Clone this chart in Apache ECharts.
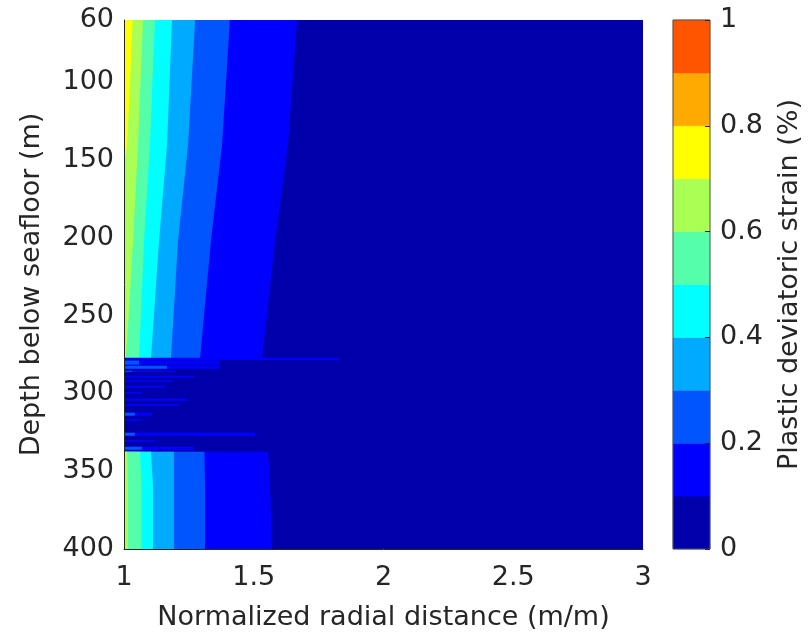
<!DOCTYPE html>
<html>
<head>
<meta charset="utf-8">
<script src="https://cdn.jsdelivr.net/npm/echarts@6/dist/echarts.min.js"></script>
<style>html,body{margin:0;padding:0;background:#fff}#chart{width:810px;height:639px}</style>
</head>
<body>
<div id="chart"></div>
<script>
// ---- data ----
const levelBounds = [0, 0.1, 0.2, 0.3, 0.4, 0.5, 0.6, 0.7, 0.8, 0.9, 1.0];
const levelColors = ['#0000AA','#0000FF','#0055FF','#00AAFF','#00FFFF','#55FFAA','#AAFF55','#FFFF00','#FFAA00','#FF5500'];
const xRange = [1, 3];
const depthRange = [60, 400];
const depthTicks = [60, 100, 150, 200, 250, 300, 350, 400];

// upper layer: x position of contour levels 0.1..0.6 at these depths
const upperDepth = [60, 140, 202, 277.5];
const upperContour01 = [1.667, 1.632, 1.582, 1.532];
const upperContour02 = [1.408, 1.378, 1.335, 1.293];
const upperContour03 = [1.274, 1.247, 1.208, 1.181];
const upperContour04 = [1.185, 1.166, 1.135, 1.104];
const upperContour05 = [1.119, 1.100, 1.077, 1.058];
const upperContour06 = [1.073, 1.054, 1.035, 1.008];
// contour 0.7 (yellow) closes on the wall
const yellowDepth = [60, 100, 140, 156];
const yellowContour07 = [1.033, 1.023, 1.012, 1.0];

// lower layer
const lowerDepth = [337.5, 360, 400];
const lowerContour01 = [1.555, 1.563, 1.570];
const lowerContour02 = [1.310, 1.312, 1.312];
const lowerContour03 = [1.193, 1.193, 1.193];
const lowerContour04 = [1.104, 1.112, 1.112];
const lowerContour05 = [1.062, 1.067, 1.067];
const lowerContour06 = [1.012, 1.015, 1.015];

// middle layer streaks: top depth, bottom depth, reach (x), level index
const streakTop    = [277.0, 278.9, 278.9, 282.2, 282.2, 285.4, 285.4, 288.6, 291.5, 295.0, 299.0, 303.5, 306.8, 312.4, 312.4, 316.5, 325.3, 325.3, 330.0, 334.3, 334.3];
const streakBottom = [278.5, 281.5, 281.5, 284.1, 284.1, 286.2, 286.2, 289.9, 292.5, 296.3, 300.2, 304.7, 307.9, 314.3, 314.3, 317.5, 327.2, 327.2, 331.0, 336.2, 336.2];
const streakReach  = [1.83, 1.366, 1.058, 1.366, 1.166, 1.197, 1.031, 1.270, 1.185, 1.158, 1.069, 1.243, 1.212, 1.108, 1.042, 1.069, 1.505, 1.042, 1.119, 1.270, 1.069];
const streakLevel  = [1, 1, 2, 1, 2, 1, 2, 1, 1, 1, 1, 1, 1, 1, 2, 1, 1, 2, 1, 1, 2];

// ---- build shapes (in data coordinates) ----
const shapes = [];
function bandPoly(xs, ds, level) {
  const pts = [[xRange[0], ds[0]]];
  for (let i = 0; i < xs.length; i++) pts.push([xs[i], ds[i]]);
  pts.push([xRange[0], ds[ds.length - 1]]);
  shapes.push({ pts: pts, level: level });
}
shapes.push({ pts: [[xRange[0], depthRange[0]], [xRange[1], depthRange[0]], [xRange[1], depthRange[1]], [xRange[0], depthRange[1]]], level: 0 });
[upperContour01, upperContour02, upperContour03, upperContour04, upperContour05, upperContour06].forEach((c, i) => bandPoly(c, upperDepth, i + 1));
bandPoly(yellowContour07, yellowDepth, 7);
[lowerContour01, lowerContour02, lowerContour03, lowerContour04, lowerContour05, lowerContour06].forEach((c, i) => bandPoly(c, lowerDepth, i + 1));
for (let i = 0; i < streakTop.length; i++) {
  shapes.push({ pts: [[xRange[0], streakTop[i]], [streakReach[i], streakTop[i]], [streakReach[i], streakBottom[i]], [xRange[0], streakBottom[i]]], level: streakLevel[i] });
}

const txt = '#262626';
const font = 'DejaVu Sans';
const chart = echarts.init(document.getElementById('chart'), null, { renderer: 'canvas' });
chart.setOption({
  animation: false,
  backgroundColor: '#ffffff',
  textStyle: { fontFamily: font },
  grid: [
    { left: 124, right: 167, top: 20, bottom: 90, containLabel: false },
    { left: 673, width: 37, top: 20, bottom: 90, show: true, borderColor: '#555555', borderWidth: 1, z: 10 }
  ],
  xAxis: [
    { gridIndex: 0, type: 'value', min: xRange[0], max: xRange[1], interval: 0.5, z: 10,
      name: 'Normalized radial distance (m/m)', nameLocation: 'middle', nameGap: 55,
      nameTextStyle: { fontSize: 27, color: txt, fontFamily: font },
      axisLine: { show: true, onZero: false, lineStyle: { color: txt, width: 1 } },
      axisTick: { show: false }, splitLine: { show: false },
      axisLabel: { fontSize: 27, color: txt, fontFamily: font, margin: 15 } },
    { gridIndex: 1, type: 'value', min: 0, max: 1, show: false }
  ],
  yAxis: [
    { gridIndex: 0, type: 'value', min: depthRange[0], max: depthRange[1], inverse: true, z: 10,
      name: 'Depth below seafloor (m)', nameLocation: 'middle', nameGap: 79, nameRotate: 90,
      nameTextStyle: { fontSize: 27, color: txt, fontFamily: font },
      axisLine: { show: true, onZero: false, lineStyle: { color: txt, width: 1 } },
      axisTick: { show: false }, splitLine: { show: false },
      axisLabel: { fontSize: 27, color: txt, fontFamily: font, margin: 10, customValues: depthTicks } },
    { gridIndex: 1, type: 'value', min: 0, max: 1, interval: 0.2, position: 'right', z: 10,
      name: 'Plastic deviatoric strain (%)', nameLocation: 'middle', nameGap: 66, nameRotate: 90,
      nameTextStyle: { fontSize: 27, color: txt, fontFamily: font },
      axisLine: { show: false, onZero: false },
      axisTick: { show: true, inside: true, length: 5, lineStyle: { color: txt } },
      splitLine: { show: false },
      axisLabel: { fontSize: 27, color: txt, fontFamily: font, margin: 10 } }
  ],
  series: [
    {
      type: 'custom', xAxisIndex: 0, yAxisIndex: 0, clip: true,
      encode: { x: 0, y: 1 },
      data: shapes.map((s, i) => [s.pts[0][0], s.pts[0][1], i]),
      renderItem: function (params, api) {
        const s = shapes[params.dataIndex];
        const points = s.pts.map(p => api.coord(p));
        return { type: 'polygon', z2: params.dataIndex, shape: { points: points },
          style: { fill: levelColors[s.level], stroke: null } };
      }
    },
    {
      type: 'custom', xAxisIndex: 1, yAxisIndex: 1,
      encode: { x: 0, y: 1 },
      data: levelColors.map((c, i) => [0, levelBounds[i], levelBounds[i + 1], i]),
      renderItem: function (params, api) {
        const i = params.dataIndex;
        const p0 = api.coord([0, levelBounds[i + 1]]);
        const p1 = api.coord([1, levelBounds[i]]);
        return { type: 'rect', shape: { x: p0[0], y: p0[1], width: p1[0] - p0[0], height: p1[1] - p0[1] },
          style: { fill: levelColors[i], stroke: levelColors[i], lineWidth: 0.5 } };
      }
    }
  ]
});
</script>
</body>
</html>
